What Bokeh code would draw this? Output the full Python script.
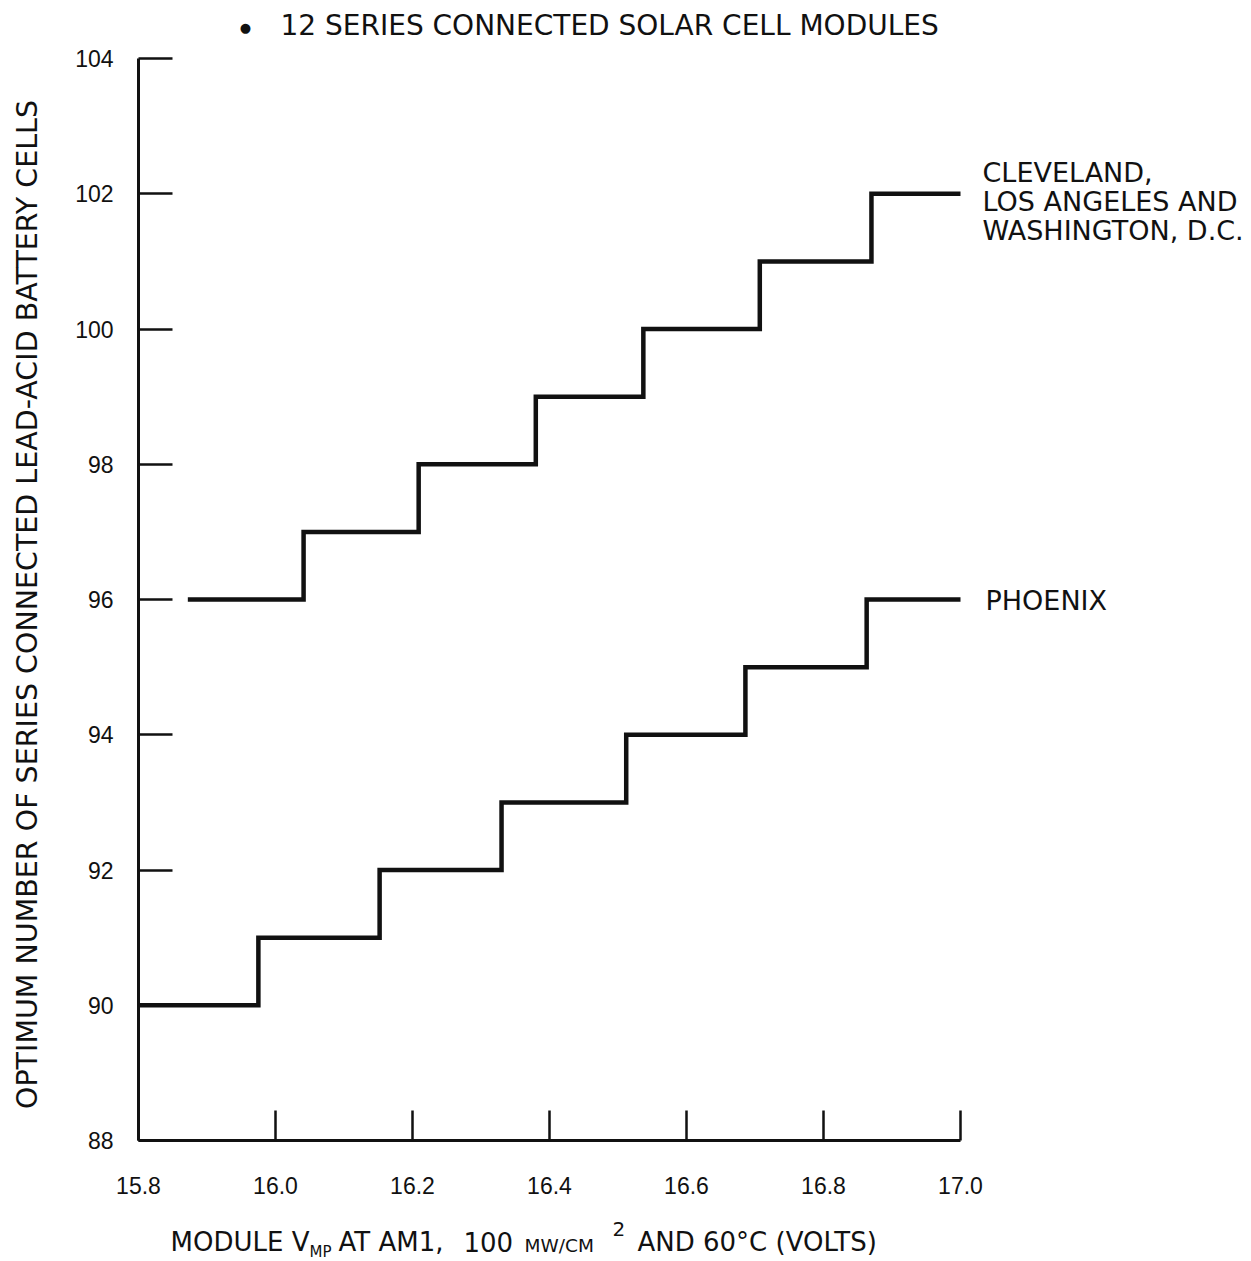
import math
from bokeh.plotting import figure
from bokeh.models import Range1d, FixedTicker, Label, PrintfTickFormatter
from bokeh.embed import file_html
from bokeh.resources import INLINE

# ---- data ----
upper_x = [15.872, 16.041, 16.209, 16.380, 16.537, 16.707, 16.870, 17.0]
upper_y = [96, 97, 98, 99, 100, 101, 102, 102]
lower_x = [15.800, 15.975, 16.152, 16.330, 16.512, 16.686, 16.863, 17.0]
lower_y = [90, 91, 92, 93, 94, 95, 96, 96]
x_ticks = [15.8, 16.0, 16.2, 16.4, 16.6, 16.8, 17.0]
y_ticks = [88, 90, 92, 94, 96, 98, 100, 102, 104]
upper_label = ["CLEVELAND,", "LOS ANGELES AND", "WASHINGTON, D.C."]
lower_label = "PHOENIX"
title_text = "12 SERIES CONNECTED SOLAR CELL MODULES"
y_title = "OPTIMUM NUMBER OF SERIES CONNECTED LEAD-ACID BATTERY CELLS"

FONT = "DejaVu Sans"
TICK_FONT = "Liberation Sans"
INK = "#111111"
W, H = 1251, 1261
ORIGIN_PX, ORIGIN_PY = 138, 1140   # screen position of (15.8, 88)
XS, YS = 685.0, 67.625             # pixels per data unit


def px2x(px):
    return 15.8 + (px - ORIGIN_PX) / XS


def py2y(py):
    return 88 + (ORIGIN_PY - py) / YS


p = figure(width=W, height=H, output_backend="svg", toolbar_location=None,
           x_range=Range1d(px2x(0), px2x(W)), y_range=Range1d(py2y(H), py2y(0)),
           min_border_left=0, min_border_right=0, min_border_top=0,
           min_border_bottom=0)
p.outline_line_color = None
p.grid.visible = False
p.background_fill_color = "white"
p.border_fill_color = "white"

# axes (placed at the data origin)
ya = p.yaxis[0]
ya.fixed_location = 15.8
ya.ticker = FixedTicker(ticks=y_ticks)
ya.bounds = (88, 104)
ya.major_tick_in = 34
ya.major_tick_out = 0
ya.minor_tick_in = 0
ya.minor_tick_out = 0
ya.axis_line_width = 3
ya.axis_line_color = INK
ya.major_tick_line_width = 2.5
ya.major_tick_line_color = INK
ya.major_label_standoff = 25
ya.major_label_text_font = TICK_FONT
ya.major_label_text_font_size = "23px"
ya.major_label_text_color = INK

xa = p.xaxis[0]
xa.fixed_location = 88
xa.ticker = FixedTicker(ticks=x_ticks)
xa.formatter = PrintfTickFormatter(format="%.1f")
xa.bounds = (15.8, 17.0)
xa.major_tick_in = 30
xa.major_tick_out = 0
xa.minor_tick_in = 0
xa.minor_tick_out = 0
xa.axis_line_width = 3
xa.axis_line_color = INK
xa.major_tick_line_width = 2.5
xa.major_tick_line_color = INK
xa.major_label_standoff = 36
xa.major_label_text_font = TICK_FONT
xa.major_label_text_font_size = "23px"
xa.major_label_text_color = INK

# step series
p.step(x=upper_x, y=upper_y, mode="after", line_width=4.5, line_color=INK,
       line_join="miter")
p.step(x=lower_x, y=lower_y, mode="after", line_width=4.5, line_color=INK,
       line_join="miter")


def lab(text, px, py, size, align="left", baseline="middle", angle=0.0):
    p.add_layout(Label(x=px2x(px), y=py2y(py), text=text, text_font=FONT,
                       text_font_size=f"{size}px", text_align=align,
                       text_baseline=baseline, text_color=INK, angle=angle))


# title
lab("\u25cf", 245, 27, 13, align="center")
lab(title_text, 280, 25, 28)

# y axis title
lab(y_title, 27, 604, 28.5, align="center", angle=math.pi / 2)

# series labels
for i, t in enumerate(upper_label):
    lab(t, 982, 172 + i * 29, 27)
lab(lower_label, 985, 600, 27)

# x axis title with sub/superscripts
lab("MODULE V", 170, 1241, 26)
lab("MP", 309, 1251, 15)
lab("AT AM1,", 338, 1241, 26)
lab("100", 463, 1241, 26)
lab("MW/CM", 524, 1245, 18.5)
lab("2", 612, 1228, 20)
lab("AND 60\u00b0C (VOLTS)", 637, 1241, 26)

open("out.html", "w").write(file_html(p, INLINE))
